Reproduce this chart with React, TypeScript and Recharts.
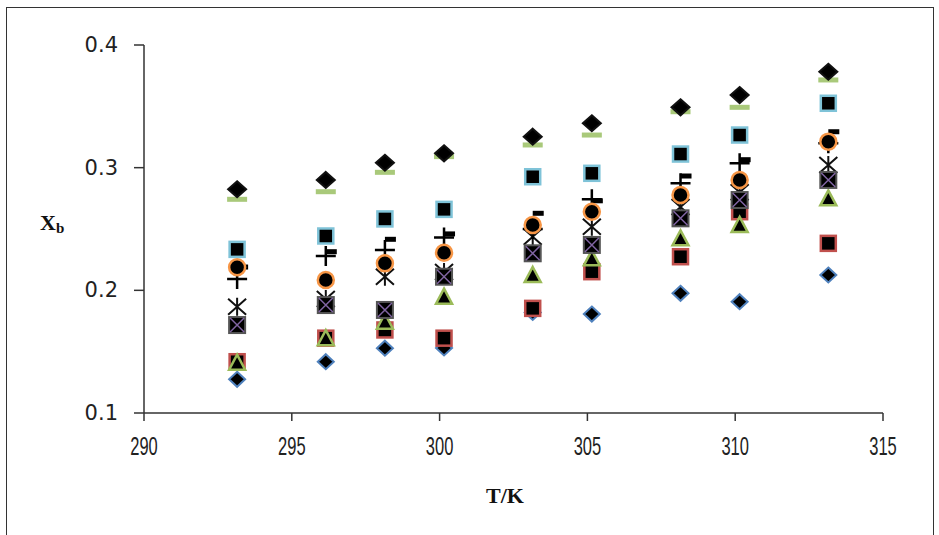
import React from "react";
import { ScatterChart, Scatter, XAxis, YAxis } from "recharts";

const T = [293.15, 296.15, 298.15, 300.15, 303.15, 305.15, 308.15, 310.15, 313.15];
const blueDiamond = [0.1275, 0.1418, 0.1528, 0.153, 0.182, 0.1807, 0.1976, 0.1907, 0.2125];
const redSquare = [0.1418, 0.161, 0.1677, 0.161, 0.1853, 0.2152, 0.2274, 0.2641, 0.2383];
const greenTriangle = [0.141, 0.161, 0.1744, 0.1948, 0.2125, 0.2261, 0.2424, 0.2533, 0.275];
const starSeries = [0.1867, 0.193, 0.2111, 0.215, 0.2437, 0.2519, 0.268, 0.28, 0.3022];
const crossSquare = [0.1717, 0.188, 0.184, 0.2111, 0.2302, 0.237, 0.2587, 0.2736, 0.29];
const plusSeries = [0.2093, 0.228, 0.2329, 0.243, 0.25, 0.2742, 0.2873, 0.3035, 0.32];
const blackDash = [0.219, 0.2315, 0.2416, 0.246, 0.2628, 0.273, 0.2932, 0.3065, 0.3293];
const orangeCircle = [0.2188, 0.2084, 0.222, 0.2307, 0.2533, 0.2641, 0.2777, 0.29, 0.3212];
const aquaSquare = [0.2334, 0.2443, 0.2582, 0.266, 0.2926, 0.2954, 0.3111, 0.3266, 0.3525];
const greenDash = [0.2742, 0.2804, 0.2962, 0.309, 0.3185, 0.3266, 0.3456, 0.3492, 0.3715];
const blackDiamond = [0.2824, 0.29, 0.304, 0.3117, 0.3253, 0.3362, 0.3492, 0.3592, 0.3782];

const xTicks = [290, 295, 300, 305, 310, 315];
const yTicks = [0.1, 0.2, 0.3, 0.4];

const toData = (vals: number[]) => T.map((t, i) => ({ t, v: vals[i] }));

const DiamondShape = (stroke: string, w: number, h: number) => (p: any) => {
  const { cx, cy } = p;
  return (
    <path
      d={`M${cx},${cy - h / 2} L${cx + w / 2},${cy} L${cx},${cy + h / 2} L${cx - w / 2},${cy} Z`}
      fill="#000"
      stroke={stroke}
      strokeWidth={2}
    />
  );
};

const SquareShape = (stroke: string) => (p: any) => {
  const { cx, cy } = p;
  return <rect x={cx - 7.5} y={cy - 7.5} width={15} height={15} fill="#000" stroke={stroke} strokeWidth={2.5} />;
};

const TriangleShape = (p: any) => {
  const { cx, cy } = p;
  return (
    <path
      d={`M${cx},${cy - 8} L${cx + 8},${cy + 7} L${cx - 8},${cy + 7} Z`}
      fill="#000"
      stroke="#9BBB59"
      strokeWidth={2.5}
    />
  );
};

const CrossSquareShape = (p: any) => {
  const { cx, cy } = p;
  return (
    <g>
      <rect x={cx - 8} y={cy - 8} width={16} height={16} fill="#000" stroke="#555" strokeWidth={2} />
      <path d={`M${cx - 7},${cy - 7} L${cx + 7},${cy + 7} M${cx + 7},${cy - 7} L${cx - 7},${cy + 7}`} stroke="#8064A2" strokeWidth={1.5} />
    </g>
  );
};

const StarShape = (p: any) => {
  const { cx, cy } = p;
  return (
    <path
      d={`M${cx - 9},${cy - 8} L${cx + 9},${cy + 8} M${cx + 9},${cy - 8} L${cx - 9},${cy + 8} M${cx},${cy - 9} L${cx},${cy + 9}`}
      stroke="#111"
      strokeWidth={2}
      fill="none"
    />
  );
};

const PlusShape = (p: any) => {
  const { cx, cy } = p;
  return (
    <path
      d={`M${cx - 10},${cy} L${cx + 10},${cy} M${cx},${cy - 10} L${cx},${cy + 10}`}
      stroke="#000"
      strokeWidth={2.5}
      fill="none"
    />
  );
};

const BlackDashShape = (p: any) => {
  const { cx, cy } = p;
  return <rect x={cx} y={cy - 2.5} width={11} height={5} fill="#000" />;
};

const CircleShape = (p: any) => {
  const { cx, cy } = p;
  return <circle cx={cx} cy={cy} r={8} fill="#000" stroke="#F79646" strokeWidth={2.5} />;
};

const GreenDashShape = (p: any) => {
  const { cx, cy } = p;
  return <rect x={cx - 10} y={cy - 2.5} width={20} height={5} fill="#A9C97A" />;
};

const YTick = (p: any) => {
  const { x, y, payload } = p;
  return (
    <text x={x} y={y} textAnchor="end" dominantBaseline="central" fontFamily="DejaVu Sans" fontSize={21} fill="#222">
      {payload.value.toFixed(1)}
    </text>
  );
};

const XTick = (p: any) => {
  const { x, y, payload } = p;
  return (
    <g transform={`translate(${x},${y + 24}) scale(1,1.55)`}>
      <text x={0} y={0} textAnchor="middle" dominantBaseline="central" fontFamily="Liberation Sans" fontSize={16.5} fill="#222">
        {payload.value}
      </text>
    </g>
  );
};

export default function App() {
  return (
    <div style={{ position: "absolute", left: 0, top: 0, width: 939, height: 535, background: "#fff", overflow: "hidden" }}>
      <div
        style={{
          position: "absolute",
          left: 6,
          top: 7,
          width: 928,
          height: 528,
          borderTop: "1.5px solid #333",
          borderLeft: "1.5px solid #333",
          borderRight: "1.5px solid #333",
          boxSizing: "border-box",
        }}
      />
      <div style={{ position: "absolute", left: 0, top: 0 }}>
        <ScatterChart width={939} height={535} margin={{ top: 45, right: 56, bottom: 62, left: 0 }}>
          <XAxis
            type="number"
            dataKey="t"
            domain={[290, 315]}
            ticks={xTicks}
            interval={0}
            height={60}
            tickSize={8}
            tickMargin={2}
            tick={<XTick />}
            axisLine={{ stroke: "#333", strokeWidth: 1.5 }}
            tickLine={{ stroke: "#333", strokeWidth: 1.5 }}
            allowDataOverflow
          />
          <YAxis
            type="number"
            dataKey="v"
            domain={[0.1, 0.4]}
            ticks={yTicks}
            interval={0}
            width={144}
            tickSize={10}
            tickMargin={16}
            tick={<YTick />}
            axisLine={{ stroke: "#333", strokeWidth: 1.5 }}
            tickLine={{ stroke: "#333", strokeWidth: 1.5 }}
            allowDataOverflow
          />
          <Scatter data={toData(blueDiamond)} shape={DiamondShape("#4F81BD", 16, 15)} isAnimationActive={false} />
          <Scatter data={toData(redSquare)} shape={SquareShape("#C0504D")} isAnimationActive={false} />
          <Scatter data={toData(greenTriangle)} shape={TriangleShape} isAnimationActive={false} />
          <Scatter data={toData(starSeries)} shape={StarShape} isAnimationActive={false} />
          <Scatter data={toData(crossSquare)} shape={CrossSquareShape} isAnimationActive={false} />
          <Scatter data={toData(plusSeries)} shape={PlusShape} isAnimationActive={false} />
          <Scatter data={toData(blackDash)} shape={BlackDashShape} isAnimationActive={false} />
          <Scatter data={toData(orangeCircle)} shape={CircleShape} isAnimationActive={false} />
          <Scatter data={toData(aquaSquare)} shape={SquareShape("#7FC3D8")} isAnimationActive={false} />
          <Scatter data={toData(greenDash)} shape={GreenDashShape} isAnimationActive={false} />
          <Scatter data={toData(blackDiamond)} shape={DiamondShape("#111", 18, 16)} isAnimationActive={false} />
        </ScatterChart>
      </div>
      <div
        style={{
          position: "absolute",
          left: 40,
          top: 211,
          fontFamily: "Liberation Serif",
          fontWeight: "bold",
          fontSize: 22,
          color: "#111",
          lineHeight: "24px",
        }}
      >
        X<sub style={{ fontSize: 15, verticalAlign: "-3px" }}>b</sub>
      </div>
      <div
        style={{
          position: "absolute",
          left: 405,
          width: 200,
          top: 484,
          textAlign: "center",
          fontFamily: "Liberation Serif",
          fontWeight: "bold",
          fontSize: 22,
          color: "#111",
          lineHeight: "24px",
        }}
      >
        T/K
      </div>
    </div>
  );
}
